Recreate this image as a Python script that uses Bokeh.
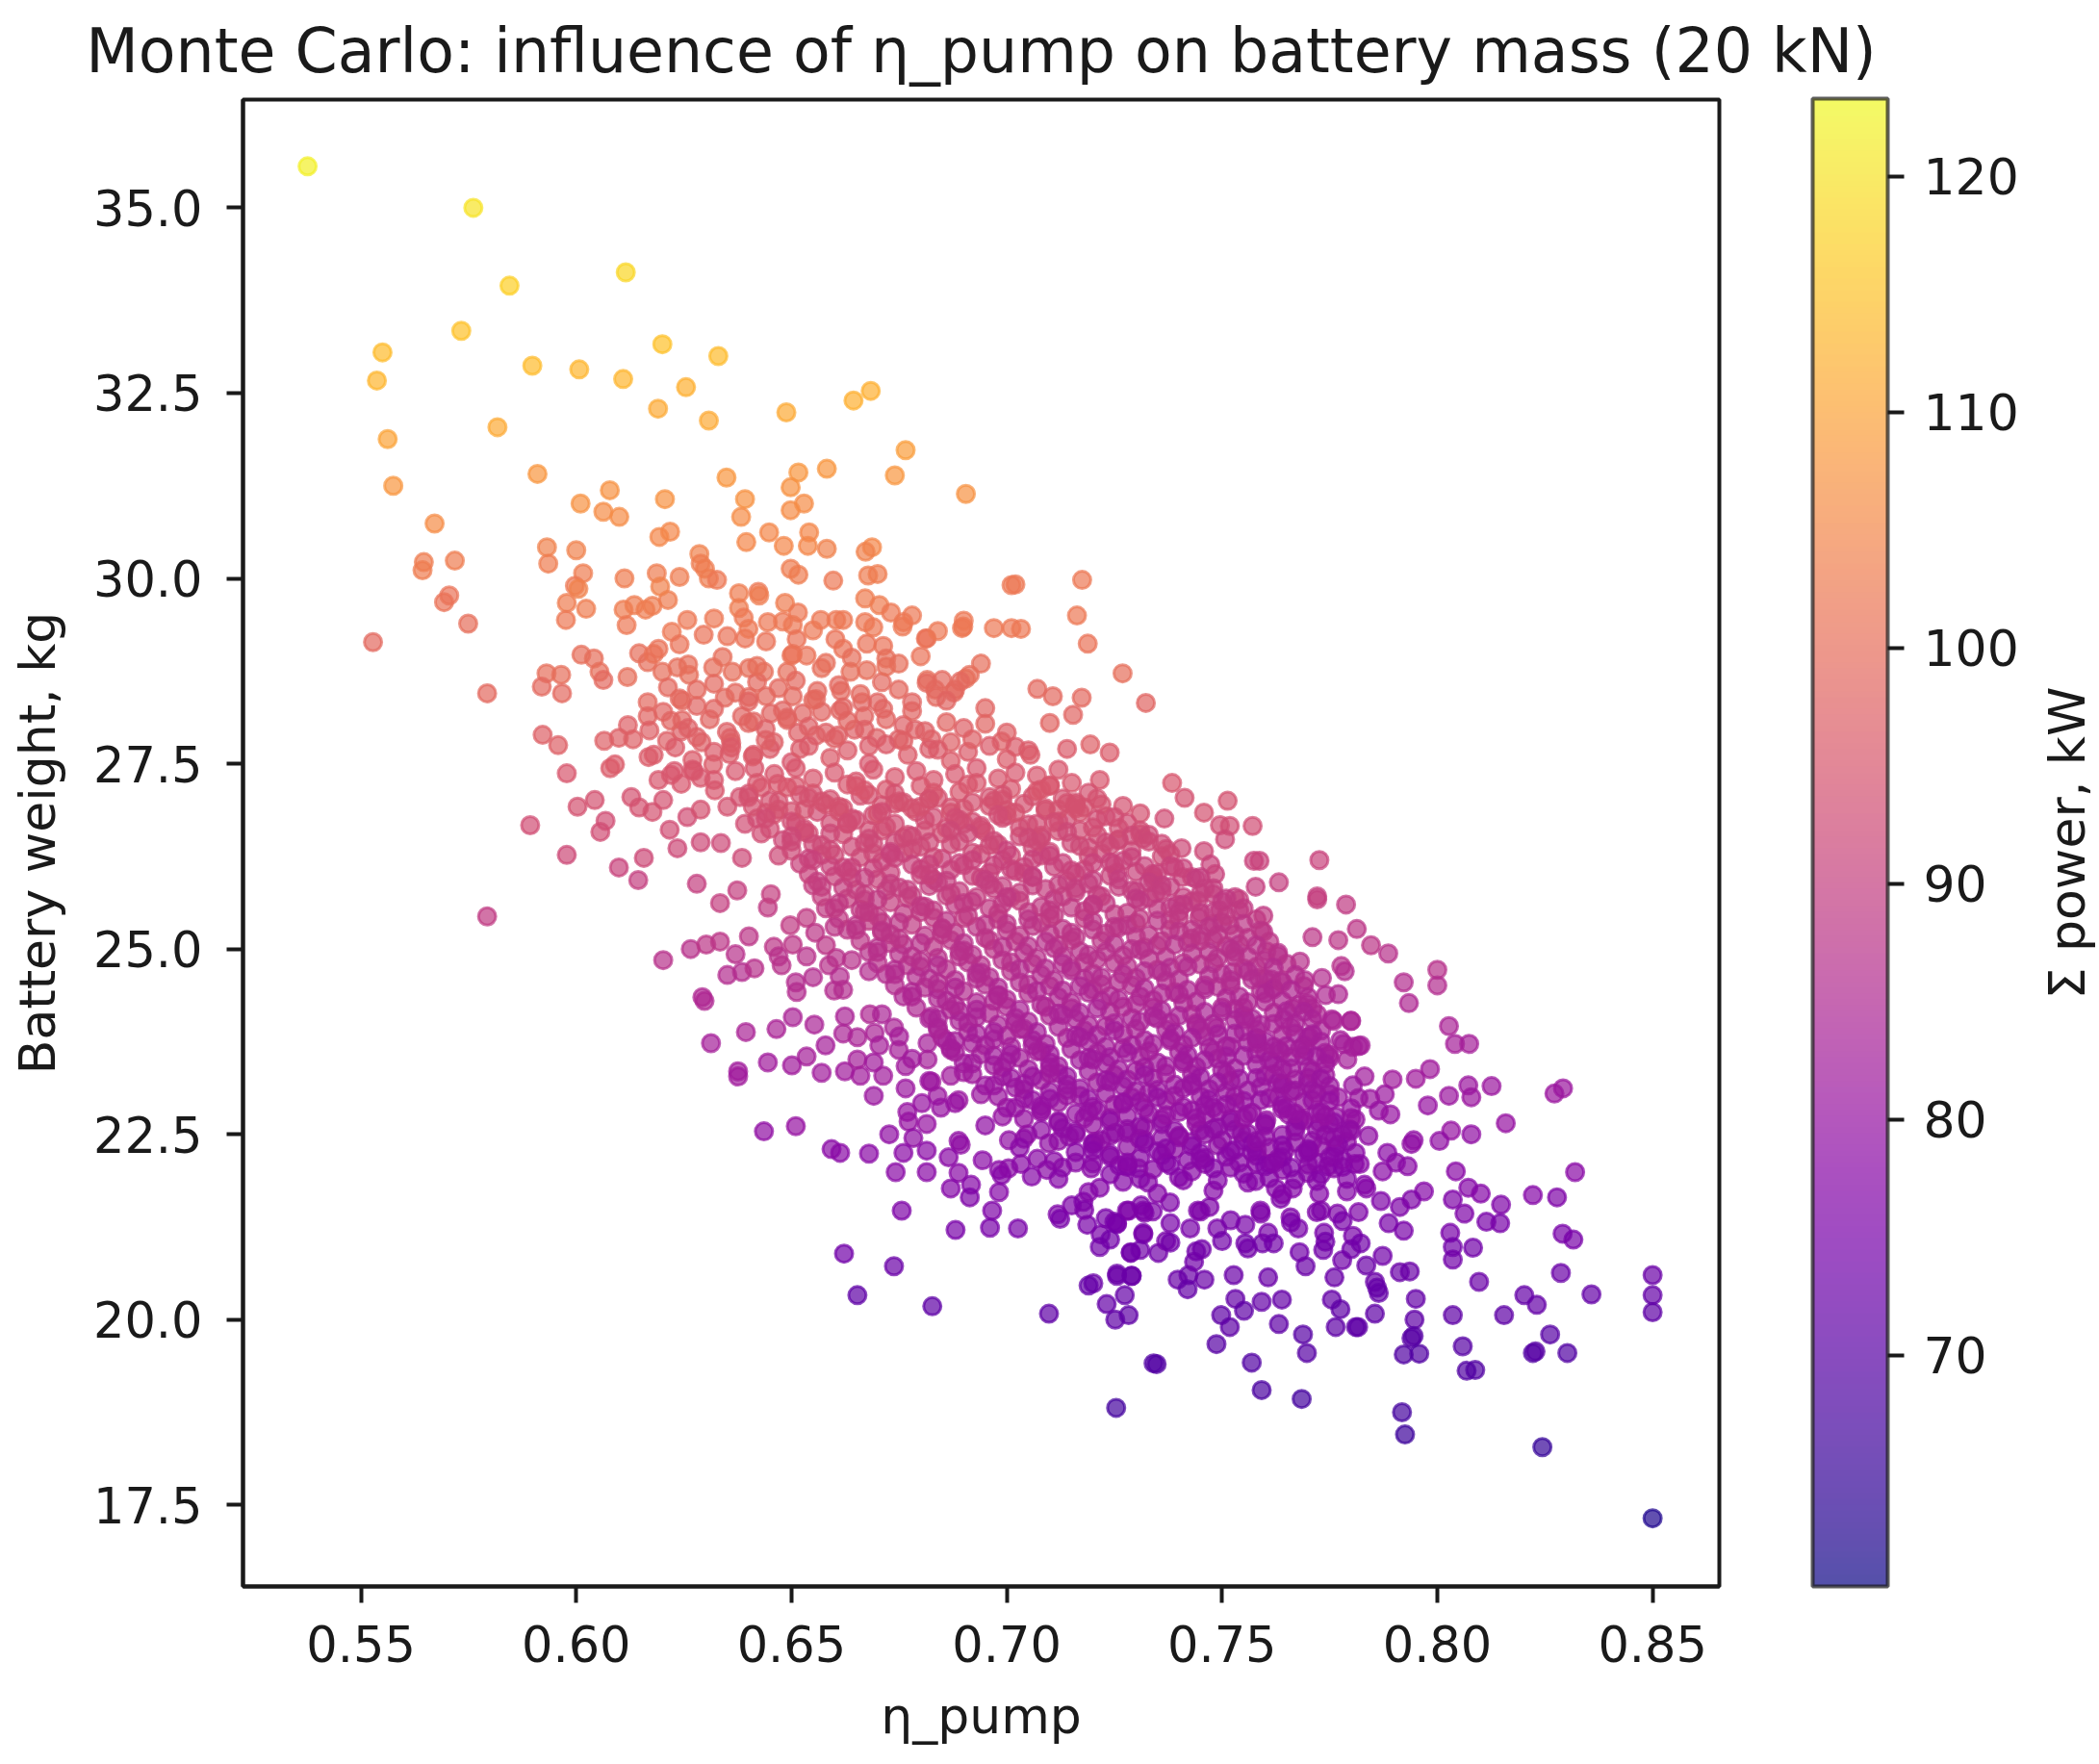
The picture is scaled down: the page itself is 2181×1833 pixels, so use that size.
from bokeh.embed import file_html
from bokeh.layouts import row
from bokeh.resources import INLINE
from bokeh.plotting import figure
from bokeh.models import (ColorBar, ColumnDataSource, FixedTicker,
                          LinearColorMapper, NumeralTickFormatter)
from bokeh.palettes import Plasma256

TITLE = "Monte Carlo: influence of η_pump on battery mass (20 kN)"
X_LABEL = "η_pump"
Y_LABEL = "Battery weight, kg"
C_LABEL = "Σ power, kW"
x_ticks = [0.55, 0.60, 0.65, 0.70, 0.75, 0.80, 0.85]
y_ticks = [17.5, 20.0, 22.5, 25.0, 27.5, 30.0, 32.5, 35.0]
c_ticks = [70, 80, 90, 100, 110, 120]
FONT = "DejaVu Sans"

# upper part of the cloud
eta_top = [
 .5376,.5761,.5845,.6115,.5733,.555,.5537,.5898,.6007,.6109,
 .62,.633,.6255,.619,.6308,.5817,.5562,.6488,.6644,.6684,
 .6765,.674,.6905,.591,.5575,.6582,.6516,.6498,.6349,.6078,
 .601,.6063,.61,.5671,.6206,.6193,.6218,.6392,.6383,.6395,
 .6448,.6482,.6541,.6538,.6498,.6529,.6582,.6687,.6672,.5932,
 .6,.5935,.5646,.5643,.5718,.7175,.7011,.702,.6286,.6289,
 .6299,.6308,.6327,.6498,.6516,.6678,.67,.6597,.6016,.5997,
 .6112,.6187,.624,.6423,.5693,.5705,.5749,.5528,.6812,.6896,
 .7011,.7033,.7163,.7188,.7269,.6914,.6905,.688,.6815,.6834,
]
batt_top = [
 35.56,35.0,33.95,34.13,33.34,33.05,32.67,32.87,32.82,32.69,
 33.16,33.0,32.58,32.29,32.13,32.04,31.88,32.24,32.4,32.53,
 31.73,31.39,31.14,31.41,31.25,31.48,31.43,31.23,31.36,31.19,
 31.01,30.9,30.83,30.74,31.07,30.56,30.63,31.07,30.83,30.49,
 30.62,30.44,30.62,30.44,30.92,31.01,30.4,30.42,30.36,30.42,
 30.38,30.2,30.22,30.11,30.24,29.98,29.91,29.92,30.33,30.2,
 30.13,30.0,29.98,30.13,30.05,30.04,30.06,29.97,30.07,29.9,
 30.0,30.07,30.02,29.82,29.68,29.77,29.39,29.14,29.19,29.33,
 29.33,29.32,29.5,29.12,28.72,28.7,28.65,28.5,28.63,28.5,
]
power_top = [
 122,120,117,118,115,114,113,114,113,113,
 115,114,112,111,111,111,110,111,112,112,
 109,108,107,108,108,108,108,107,108,107,
 107,106,106,106,107,105,105,107,106,105,
 105,105,105,105,106,106,104,105,104,104,
 104,103,103,103,103,102,102,102,104,103,
 103,103,102,103,103,103,103,102,103,102,
 103,103,103,102,101,101,100,99,101,102,
 102,102,102,101,100,100,100,99,100,99,
]

# left flank
eta_left = [
 .6005,.5978,.6023,.5976,.611,.6135,.6161,.6117,.6177,.6213,
 .6195,.6378,.6378,.6389,.6425,.6485,.6515,.6503,.6445,.6568,
 .6604,.6671,.6704,.6671,.6731,.678,.6758,.6814,.6899,.6713,
 .6749,.6675,.6602,.662,.6222,.6258,.6296,.6351,.6392,.6441,
 .6512,.6535,.6503,.624,.6146,.6191,.6012,.6041,.6054,.6063,
 .6119,.5931,.5965,.592,.5967,.5793,.6166,.62,.6235,.6262,
 .6318,.6363,.6401,.6436,.649,.657,.6637,.6675,.672,.6213,
 .6246,.628,.6166,.6166,.6202,.6345,.6401,.6441,.6503,.6557,
 .6615,.6664,.6749,.678,.6814,.685,.6836,.6892,.6877,.6385,
 .6412,.6452,.649,.6526,.657,.6613,.6669,.6713,.6698,.6646,
 .6246,.6244,.6211,.5922,.5958,.5978,.6065,.6099,.6132,.6168,
 .6291,.6358,.6356,.6412,.6414,.6459,.6515,.6557,.6608,.687,
 .6787,.6749,.6825,.609,.6079,.6191,.6228,.6244,.6273,.6318,
 .6289,.6468,.6043,.6003,.6128,.6146,.6177,.6202,.5893,.6068,
 .6056,.6258,.6289,.6217,.6235,.6289,.6336,.6351,.6322,.6401,
 .6441,.6392,.643,.5978,.6099,.6157,.6144,.628,.6374,.6334,
 .6385,.647,.6445,.5793,.6401,.6266,.6202,.6302,.6334,.637,
 .6459,.6503,.6535,.6497,.6452,.6535,.6587,.6612,.6555,.6604,
]
batt_left = [
 29.86,29.67,29.59,29.44,29.58,29.64,29.58,29.37,29.63,29.71,
 29.89,29.8,29.6,29.47,29.77,29.67,29.54,29.37,29.41,29.44,
 29.44,29.73,29.64,29.41,29.54,29.5,29.35,29.19,29.35,29.09,
 28.85,29.12,29.18,29.05,29.28,29.44,29.24,29.22,29.19,29.15,
 29.18,28.96,28.98,29.11,28.99,29.05,28.97,28.92,28.74,28.63,
 28.67,28.72,28.7,28.54,28.45,28.45,28.87,28.74,28.8,28.7,
 28.8,28.74,28.79,28.74,28.74,28.79,28.74,28.76,28.92,28.53,
 28.35,28.28,28.33,28.14,28.2,28.39,28.4,28.41,28.41,28.37,
 28.48,28.33,28.5,28.33,28.59,28.63,28.4,28.61,28.46,28.14,
 28.07,28.18,28.09,28.18,28.2,28.22,28.14,28.24,27.85,27.96,
 28.09,27.94,27.81,27.89,27.75,27.37,27.81,27.85,27.83,27.59,
 27.79,27.85,27.63,27.62,27.44,27.79,27.92,27.88,27.88,27.79,
 27.96,27.83,27.83,27.49,27.44,27.28,27.4,27.23,27.4,27.49,
 27.31,27.23,27.01,26.92,27.05,26.91,26.85,27.01,26.67,26.73,
 26.58,26.78,26.88,26.61,26.36,26.44,26.43,26.92,27.14,27.1,
 26.84,26.69,26.56,26.27,26.1,26.23,25.93,25.88,25.79,25.62,
 26.23,26.26,25.56,25.44,25.17,25.0,24.85,25.06,25.1,24.93,
 25.03,25.06,24.9,25.32,25.74,25.42,24.78,24.63,25.22,24.88,
]
power_left = [
 104,103,103,102,103,103,103,102,103,103,
 104,103,103,102,103,103,102,102,102,102,
 102,103,103,102,102,102,102,101,102,101,
 100,101,101,101,102,102,101,101,101,101,
 101,101,101,101,100,101,100,100,100,99,
 100,100,100,99,99,99,100,100,100,100,
 100,100,100,100,100,100,100,100,100,99,
 99,98,99,98,98,99,99,99,99,99,
 99,98,99,98,99,99,99,99,99,98,
 98,98,98,98,98,98,98,98,97,97,
 98,97,97,97,97,95,97,97,97,96,
 97,97,96,96,95,97,97,97,97,97,
 97,97,97,96,96,95,95,95,95,96,
 95,95,94,94,94,94,94,94,93,93,
 93,93,94,93,92,92,92,94,95,94,
 94,93,93,92,91,92,90,90,90,90,
 92,92,89,89,88,87,87,88,88,87,
 88,88,87,89,90,89,87,86,88,87,
]

# upper right flank
eta_ur = [
 .7071,.7107,.7174,.7154,.7323,.6988,.71,.7055,.714,.7194,
 .7239,.7216,.7151,.71,.716,.7384,.7413,.7513,.7458,.727,
 .731,.7366,.7495,.7518,.7571,.7507,.7317,.7259,.737,.7406,
 .7458,.7473,.7484,.7726,.7574,.7587,.7339,.7256,.7408,.7632,
 .7578,.7721,.7721,.7788,.7301,.7346,.7395,.7444,.748,.754,
 .7447,.7495,.754,.7596,.7518,.7379,.7429,.748,.7813,.771,
 .777,.7846,.7886,.8,.8,.7922,.7934,.7529,.7596,.7603,
 .763,.7681,.7692,.7777,.7785,.7732,.7525,.7585,.7614,.7636,
 .7618,.777,.7741,.7699,.7665,.7721,.7799,.7755,.7643,.7554,
 .7703,.7822,.7804,.7775,.7748,.7632,.7581,.752,.7487,.744,
]
batt_ur = [
 28.51,28.41,28.39,28.16,28.32,27.8,28.05,27.62,27.7,27.76,
 27.65,27.28,27.24,27.2,26.95,27.24,27.04,27.0,26.84,26.93,
 26.83,26.76,26.67,26.66,26.66,26.48,26.49,26.47,26.35,26.36,
 26.32,26.14,26.01,26.2,26.19,26.19,26.01,26.03,25.97,25.9,
 25.84,25.71,25.67,25.6,25.78,25.75,25.6,25.65,25.74,25.67,
 25.42,25.52,25.52,25.45,25.32,25.26,25.14,25.13,25.27,25.16,
 25.12,25.05,24.94,24.72,24.51,24.55,24.27,24.96,25.23,24.97,
 24.91,24.83,24.58,24.77,24.7,24.61,24.69,24.61,24.59,24.57,
 24.48,24.39,24.38,24.26,24.2,24.12,24.03,24.05,24.05,24.05,
 23.81,23.7,23.68,23.77,23.57,23.64,23.79,23.68,23.94,24.0,
]
power_ur = [
 99,99,99,98,98,97,98,96,96,97,
 96,95,95,95,94,95,94,94,94,94,
 94,93,93,93,93,92,92,92,92,92,
 92,91,91,91,91,91,91,91,91,90,
 90,90,90,89,90,90,89,90,90,90,
 89,89,89,89,89,88,88,88,88,88,
 88,88,87,87,86,86,85,87,88,87,
 87,87,86,87,86,86,86,86,86,86,
 86,85,85,85,85,85,84,84,84,84,
 84,83,83,83,83,83,83,83,84,84,
]

# lower right flank
eta_lr = [
 .8027,.8041,.8074,.8272,.8292,.7983,.795,.8126,.8072,.8079,
 .8027,.7978,.8159,.7896,.7831,.7804,.7878,.7844,.7817,.7864,
 .7891,.784,.8032,.8005,.8079,.794,.7945,.7884,.7904,.7931,
 .7873,.8043,.832,.8222,.8278,.7969,.8072,.8101,.8036,.8148,
 .8063,.8114,.8146,.794,.7869,.7835,.7913,.7887,.7922,.7817,
 .8291,.8316,.803,.8036,.8036,.8083,.8287,.8097,.8358,.85,
 .85,.85,.8202,.8231,.8155,.8036,.8262,.8302,.8222,.8228,
 .8059,.8068,.8088,.8244,.85,.7918,.7925,.795,.7947,.794,
 .7945,.7922,.7958,.7855,.7855,.786,.7864,.7835,.7873,.7913,
 .7936,.7779,.7761,.7694,.7735,.7737,.7607,.7527,.7755,.7775,
 .7764,.7811,.7816,.7688,.7697,.7632,.7639,.7592,.7531,.7551,
 .7498,.7518,.7487,.7569,.7592,.7685,.7341,.7348,.7254,.7422,
 .7397,.742,.7459,.7435,.7453,.7288,.7256,.729,.7274,.7283,
 .7252,.7352,.737,.7317,.7256,.7317,.7279,.7379,.7444,.7471,
 .7426,.7489,.7554,.7594,.7607,.7554,.7589,.7636,.7659,.7677,
 .773,.7768,.7804,.7822,.7726,.7703,.7625,.7664,.7699,.7746,
 .7808,.7831,.7764,.7645,.7611,.7581,.7578,.7545,.7462,.7449,
 .7603,.7654,.769,.7726,.7764,.78,.7795,.775,.7699,.7641,
 .775,.7791,.7817,.7782,.7694,.7636,.7581,.78,.7759,.7699,
]
batt_lr = [
 23.96,23.72,23.72,23.05,23.12,23.38,23.25,23.15,23.16,23.0,
 23.02,22.89,22.65,23.24,23.28,23.16,23.04,22.98,22.99,22.82,
 22.77,22.48,22.55,22.41,22.5,22.37,22.42,22.25,22.12,22.07,
 22.0,22.0,21.99,21.68,21.65,21.73,21.78,21.7,21.62,21.55,
 21.43,21.32,21.3,21.62,21.6,21.77,21.52,21.3,21.2,21.45,
 21.16,21.08,21.17,20.98,20.81,20.97,20.63,20.51,20.34,20.6,
 20.33,20.1,20.33,20.2,20.06,20.06,19.8,19.55,19.55,19.57,
 19.64,19.31,19.32,18.28,17.32,18.75,18.45,20.28,20.0,19.75,
 19.78,19.53,19.54,20.08,20.51,20.43,20.36,20.73,20.86,20.64,
 20.65,20.8,20.57,20.72,20.94,21.17,20.57,20.6,20.27,20.14,
 19.9,19.9,19.9,19.8,19.55,19.94,20.27,20.24,20.28,20.12,
 20.06,19.9,19.67,19.42,19.05,18.93,19.41,19.4,18.81,20.6,
 20.54,20.41,20.54,20.78,20.95,20.9,20.59,20.59,20.33,20.06,
 20.0,20.9,21.06,21.17,21.3,21.47,21.47,21.58,21.47,21.52,
 21.23,21.23,21.03,21.03,21.17,21.28,21.47,21.63,21.38,21.23,
 21.47,21.43,21.13,21.03,21.7,22.28,21.77,21.77,21.98,22.07,
 22.1,21.82,22.32,22.28,22.1,22.28,21.87,22.52,22.77,22.55,
 22.69,22.77,22.69,22.66,22.74,22.72,22.57,23.04,23.18,23.18,
 23.53,23.51,23.69,23.72,23.64,23.61,23.73,24.03,24.03,23.81,
]
power_lr = [
 84,83,83,81,81,82,82,81,81,81,
 81,80,80,82,82,81,81,81,81,80,
 80,79,80,79,79,79,79,78,78,78,
 78,78,78,77,76,77,77,77,76,76,
 76,75,75,76,76,77,76,75,75,76,
 75,75,75,74,74,74,73,73,72,73,
 72,71,72,72,71,71,70,69,69,70,
 70,69,69,65,62,67,66,72,71,70,
 70,69,69,71,73,72,72,73,74,73,
 73,74,73,73,74,75,73,73,72,71,
 71,71,71,70,70,71,72,72,72,71,
 71,71,70,69,68,67,69,69,67,73,
 73,72,73,74,74,74,73,73,72,71,
 71,74,75,75,75,76,76,76,76,76,
 75,75,74,74,75,75,76,76,76,75,
 76,76,75,74,77,79,77,77,78,78,
 78,77,79,79,78,79,77,79,80,79,
 80,80,80,80,80,80,79,81,81,81,
 83,83,83,83,83,83,83,84,84,84,
]

# lower left flank
eta_ll = [
 .6293,.6298,.6351,.6385,.6414,.6477,.6512,.6599,.6503,.6465,
 .6394,.6313,.6553,.6579,.6535,.6501,.6445,.657,.6376,.6376,
 .6624,.666,.6691,.6624,.662,.6682,.6653,.6693,.6738,.6704,
 .6749,.6765,.6653,.6691,.6713,.6816,.6825,.685,.687,.6816,
 .6825,.687,.6765,.6888,.6839,.6847,.6803,.6769,.6814,.6772,
 .6727,.6783,.676,.6814,.6888,.6893,.6865,.668,.6593,.6613,
 .651,.6436,.6742,.6814,.6888,.6944,.687,.6917,.6914,.6982,
 .6988,.7004,.7033,.7071,.7058,.7093,.7129,.716,.6982,.6966,
 .6961,.7026,.6881,.6756,.6622,.6738,.6653,.6827,.7098,.7118,
 .7124,.7151,.7178,.7187,.723,.7256,.7283,.7312,.7339,.7317,
 .7218,.7216,.7288,.7256,.729,.7201,.719,.7232,.7216,.7196,
 .7261,.7306,.7328,.7005,.7048,.7098,.7145,.7205,.7252,.7308,
]
batt_ll = [
 24.35,24.3,24.65,24.69,24.74,24.78,24.42,24.44,24.08,23.92,
 23.88,23.73,23.98,23.7,23.55,23.43,23.47,23.33,23.35,23.28,
 23.35,23.29,23.02,24.09,23.86,24.12,23.81,23.87,23.94,23.7,
 23.64,23.42,23.51,23.47,23.29,23.73,24.09,23.81,23.66,23.51,
 23.21,23.29,23.12,22.96,23.02,22.86,22.92,22.8,22.64,22.67,
 22.5,22.45,22.25,22.28,22.41,22.36,22.19,22.24,22.3,22.25,
 22.61,22.54,21.99,21.99,21.98,22.15,21.77,21.82,21.65,22.02,
 21.95,22.04,22.1,22.17,21.93,22.02,22.05,22.12,21.72,21.47,
 21.24,21.23,21.21,21.47,20.89,20.72,20.33,20.18,20.08,21.42,
 21.36,21.54,21.59,21.28,21.37,21.29,21.47,21.54,21.46,21.15,
 21.15,20.98,20.91,20.62,20.59,20.49,20.46,20.21,21.78,22.04,
 22.08,22.04,21.85,22.42,22.5,22.38,22.47,22.4,22.52,22.44,
]
power_ll = [
 85,85,86,86,87,87,86,86,84,84,
 84,83,84,83,83,82,82,82,82,82,
 82,82,81,84,84,85,84,84,84,83,
 83,82,83,82,82,83,85,84,83,83,
 82,82,81,81,81,80,80,80,80,80,
 79,79,78,78,79,79,78,78,78,78,
 80,79,78,78,78,78,77,77,76,78,
 77,78,78,78,77,78,78,78,77,76,
 75,75,75,76,74,73,71,71,71,76,
 75,76,76,75,75,75,76,76,76,75,
 75,74,74,73,73,73,72,72,77,78,
 78,78,77,79,79,79,79,79,79,79,
]

# dense middle of the cloud
eta_core = [
 .638,.643,.647,.651,.655,.659,.663,.668,.672,.676,
 .680,.684,.689,.693,.697,.701,.706,.710,.714,.719,
 .642,.647,.651,.656,.661,.665,.669,.674,.678,.683,
 .687,.692,.696,.700,.705,.709,.714,.718,.723,.728,
 .648,.653,.657,.662,.667,.671,.676,.680,.685,.689,
 .694,.698,.703,.707,.712,.717,.721,.726,.731,.736,
 .652,.657,.662,.666,.671,.676,.680,.685,.690,.694,
 .699,.704,.708,.713,.718,.722,.727,.732,.736,.741,
 .655,.660,.665,.670,.675,.680,.684,.689,.694,.699,
 .704,.709,.714,.719,.724,.729,.734,.738,.743,.748,
 .658,.663,.668,.673,.678,.683,.688,.693,.698,.703,
 .708,.713,.718,.723,.728,.733,.738,.743,.748,.753,
 .663,.668,.673,.678,.683,.688,.693,.698,.703,.708,
 .713,.718,.723,.728,.733,.738,.743,.748,.753,.758,
 .668,.673,.678,.683,.687,.692,.697,.702,.707,.712,
 .717,.722,.727,.732,.737,.742,.747,.751,.756,.761,
 .672,.677,.682,.686,.691,.696,.701,.706,.711,.715,
 .720,.725,.730,.735,.740,.745,.750,.755,.760,.765,
 .676,.681,.686,.690,.695,.700,.705,.710,.715,.720,
 .724,.729,.734,.739,.744,.749,.754,.759,.764,.769,
 .682,.687,.691,.696,.700,.705,.710,.715,.719,.724,
 .729,.734,.738,.743,.748,.753,.757,.762,.767,.771,
 .686,.691,.695,.700,.704,.709,.714,.718,.723,.727,
 .732,.737,.741,.746,.751,.755,.760,.764,.769,.773,
 .690,.694,.699,.703,.708,.712,.717,.721,.726,.731,
 .735,.740,.744,.749,.753,.758,.762,.766,.770,.774,
 .695,.699,.704,.708,.712,.717,.721,.725,.730,.734,
 .739,.743,.747,.752,.756,.760,.764,.767,.771,.774,
 .700,.704,.708,.712,.717,.721,.725,.729,.733,.737,
 .741,.745,.749,.753,.757,.761,.765,.769,.773,.777,
 .708,.712,.716,.720,.724,.728,.732,.736,.740,.744,
 .748,.752,.756,.760,.764,.768,.772,.775,.778,.781,
 .716,.720,.724,.728,.732,.736,.739,.743,.746,.749,
 .752,.755,.758,.761,.764,.767,.770,.773,.776,.779,
 .724,.728,.731,.734,.737,.740,.743,.746,.749,.752,
 .755,.758,.761,.764,.767,.770,.773,.776,.779,.782,
]
batt_core = [
 27.05,27.18,26.99,27.2,27.1,27.02,27.22,27.08,27.15,26.98,
 27.2,27.04,27.12,27.24,27.0,27.16,27.06,27.21,26.97,27.11,
 26.76,26.88,26.7,26.85,26.92,26.74,26.81,26.69,26.9,26.78,
 26.84,26.72,26.93,26.8,26.68,26.87,26.75,26.91,26.79,26.7,
 26.47,26.58,26.4,26.55,26.43,26.6,26.5,26.38,26.56,26.45,
 26.62,26.41,26.52,26.46,26.59,26.39,26.54,26.48,26.6,26.42,
 26.15,26.27,26.1,26.24,26.18,26.3,26.08,26.22,26.13,26.28,
 26.2,26.11,26.26,26.16,26.07,26.29,26.19,26.12,26.25,26.09,
 25.86,25.98,25.8,25.94,25.83,26.0,25.9,25.78,25.96,25.85,
 26.02,25.81,25.92,25.88,25.99,25.79,25.93,25.84,25.97,25.82,
 25.55,25.68,25.5,25.63,25.72,25.52,25.6,25.7,25.48,25.65,
 25.57,25.71,25.51,25.62,25.49,25.69,25.56,25.64,25.5,25.7,
 25.26,25.38,25.2,25.33,25.42,25.22,25.3,25.4,25.18,25.35,
 25.27,25.41,25.21,25.32,25.19,25.39,25.26,25.34,25.2,25.4,
 24.96,25.08,24.9,25.03,25.12,24.92,25.0,25.1,24.88,25.05,
 24.97,25.11,24.91,25.02,24.89,25.09,24.96,25.04,24.9,25.1,
 24.66,24.78,24.6,24.73,24.82,24.62,24.7,24.8,24.58,24.75,
 24.67,24.81,24.61,24.72,24.59,24.79,24.66,24.74,24.6,24.8,
 24.36,24.48,24.3,24.43,24.52,24.32,24.4,24.5,24.28,24.45,
 24.37,24.51,24.31,24.42,24.29,24.49,24.36,24.44,24.3,24.5,
 24.06,24.18,24.0,24.13,24.22,24.02,24.1,24.2,23.98,24.15,
 24.07,24.21,24.01,24.12,23.99,24.19,24.06,24.14,24.0,24.2,
 23.76,23.88,23.7,23.83,23.92,23.72,23.8,23.9,23.68,23.85,
 23.77,23.91,23.71,23.82,23.69,23.89,23.76,23.84,23.7,23.9,
 23.46,23.58,23.4,23.53,23.62,23.42,23.5,23.6,23.38,23.55,
 23.47,23.61,23.41,23.52,23.39,23.59,23.46,23.54,23.4,23.6,
 23.16,23.28,23.1,23.23,23.32,23.12,23.2,23.3,23.08,23.25,
 23.17,23.31,23.11,23.22,23.09,23.29,23.16,23.24,23.1,23.3,
 22.86,22.98,22.8,22.93,23.02,22.82,22.9,23.0,22.78,22.95,
 22.87,23.01,22.81,22.92,22.79,22.99,22.86,22.94,22.8,23.0,
 22.56,22.68,22.5,22.63,22.72,22.52,22.6,22.7,22.48,22.65,
 22.57,22.71,22.51,22.62,22.49,22.69,22.56,22.64,22.5,22.7,
 22.26,22.38,22.2,22.33,22.42,22.22,22.3,22.4,22.18,22.35,
 22.27,22.41,22.21,22.32,22.19,22.39,22.26,22.34,22.2,22.4,
 21.96,22.08,21.9,22.03,22.12,21.92,22.0,22.1,21.88,22.05,
 21.97,22.11,21.91,22.02,21.89,22.09,21.96,22.04,21.9,22.1,
]
power_core = [
 94,95,94,95,94,94,95,94,95,94,
 95,94,95,95,94,95,94,95,94,94,
 93,94,93,93,94,93,93,93,94,93,
 94,93,94,93,93,94,93,94,93,93,
 92,93,92,93,92,93,92,92,93,92,
 93,92,92,92,93,92,93,92,93,92,
 91,92,91,92,91,92,91,91,91,92,
 91,91,92,91,91,92,91,91,92,91,
 90,91,90,91,90,91,90,90,91,90,
 91,90,91,90,91,90,91,90,91,90,
 89,90,89,90,90,89,89,90,89,90,
 89,90,89,89,89,90,89,90,89,90,
 88,89,88,89,89,88,88,89,88,89,
 88,89,88,88,88,89,88,89,88,89,
 87,88,87,88,88,87,88,88,87,88,
 87,88,87,88,87,88,87,88,87,88,
 86,87,86,87,87,86,87,87,86,87,
 86,87,86,87,86,87,86,87,86,87,
 85,86,85,86,86,85,86,86,85,86,
 85,86,85,86,85,86,85,86,85,86,
 84,85,84,85,85,84,85,85,84,85,
 84,85,84,85,84,85,84,85,84,85,
 83,84,83,84,84,83,84,84,83,84,
 83,84,83,84,83,84,83,84,83,84,
 82,83,82,83,83,82,82,83,82,83,
 82,83,82,83,82,83,82,83,82,83,
 81,82,81,82,82,81,82,82,81,82,
 81,82,81,82,81,82,81,82,81,82,
 80,81,80,81,81,80,81,81,80,81,
 80,81,80,81,80,81,80,81,80,81,
 79,80,79,80,80,79,80,80,79,80,
 79,80,79,80,79,80,79,80,79,80,
 78,79,78,79,79,78,79,79,78,79,
 78,79,78,79,78,79,78,79,78,79,
 77,78,77,78,78,77,78,78,77,78,
 77,78,77,78,77,78,77,78,77,78,
]

# second pass over the dense middle
eta_mid = [
 .641,.645,.650,.654,.658,.662,.666,.671,.675,.679,
 .682,.687,.692,.696,.700,.704,.709,.713,.717,.722,
 .645,.650,.654,.659,.664,.668,.672,.677,.681,.686,
 .690,.695,.699,.703,.708,.712,.717,.721,.726,.731,
 .650,.655,.660,.664,.669,.674,.678,.683,.687,.692,
 .697,.701,.706,.710,.715,.719,.724,.729,.733,.738,
 .654,.659,.664,.669,.673,.678,.683,.687,.692,.697,
 .702,.706,.711,.716,.720,.725,.730,.734,.739,.744,
 .657,.662,.667,.672,.677,.682,.687,.692,.697,.701,
 .706,.711,.716,.721,.726,.731,.736,.741,.746,.751,
 .661,.666,.671,.676,.681,.686,.691,.696,.700,.705,
 .710,.715,.720,.725,.730,.735,.740,.745,.750,.755,
 .666,.671,.676,.681,.685,.690,.695,.700,.705,.710,
 .715,.720,.725,.730,.735,.740,.745,.749,.754,.759,
 .670,.675,.680,.684,.689,.694,.699,.704,.709,.713,
 .718,.723,.728,.733,.738,.743,.748,.753,.758,.763,
 .674,.679,.684,.688,.693,.698,.703,.708,.713,.718,
 .722,.727,.732,.737,.742,.747,.752,.757,.762,.767,
 .679,.684,.689,.693,.698,.703,.708,.712,.717,.722,
 .727,.731,.736,.741,.746,.751,.755,.760,.765,.770,
 .684,.689,.693,.698,.702,.707,.712,.716,.721,.725,
 .730,.735,.739,.744,.749,.753,.758,.762,.767,.771,
 .688,.692,.697,.701,.706,.710,.715,.719,.724,.729,
 .733,.738,.742,.747,.751,.756,.760,.765,.769,.773,
 .692,.697,.701,.705,.710,.714,.719,.723,.728,.732,
 .737,.741,.745,.750,.754,.758,.762,.766,.770,.774,
 .698,.702,.706,.710,.714,.719,.723,.727,.731,.735,
 .739,.743,.747,.751,.755,.759,.763,.767,.771,.775,
 .704,.708,.712,.716,.720,.724,.728,.732,.736,.740,
 .744,.748,.752,.756,.760,.764,.768,.772,.776,.780,
 .712,.716,.720,.724,.728,.732,.736,.739,.743,.746,
 .750,.753,.757,.760,.764,.767,.771,.774,.777,.780,
 .720,.724,.728,.731,.735,.738,.742,.745,.748,.751,
 .754,.757,.760,.763,.766,.769,.772,.775,.778,.781,
]
batt_mid = [
 26.92,27.0,26.86,27.04,26.95,26.9,27.07,26.94,26.99,26.85,
 27.02,26.91,26.98,27.05,26.87,26.96,26.9,27.03,26.84,26.95,
 26.62,26.72,26.56,26.7,26.76,26.6,26.65,26.54,26.74,26.63,
 26.69,26.58,26.77,26.64,26.53,26.72,26.6,26.75,26.63,26.55,
 26.33,26.42,26.27,26.38,26.29,26.44,26.35,26.24,26.41,26.3,
 26.46,26.26,26.37,26.31,26.43,26.25,26.39,26.33,26.45,26.28,
 26.01,26.12,25.96,26.09,26.03,26.14,25.94,26.07,25.99,26.13,
 26.05,25.97,26.11,26.02,25.93,26.14,26.04,25.98,26.1,25.95,
 25.71,25.83,25.66,25.79,25.69,25.85,25.75,25.64,25.81,25.7,
 25.86,25.67,25.77,25.73,25.84,25.65,25.78,25.7,25.82,25.68,
 25.41,25.53,25.36,25.48,25.57,25.38,25.45,25.55,25.34,25.5,
 25.42,25.56,25.37,25.47,25.35,25.54,25.41,25.49,25.36,25.55,
 25.11,25.23,25.06,25.18,25.27,25.08,25.15,25.25,25.04,25.2,
 25.12,25.26,25.07,25.17,25.05,25.24,25.11,25.19,25.06,25.25,
 24.81,24.93,24.76,24.88,24.97,24.78,24.85,24.95,24.74,24.9,
 24.82,24.96,24.77,24.87,24.75,24.94,24.81,24.89,24.76,24.95,
 24.51,24.63,24.46,24.58,24.67,24.48,24.55,24.65,24.44,24.6,
 24.52,24.66,24.47,24.57,24.45,24.64,24.51,24.59,24.46,24.65,
 24.21,24.33,24.16,24.28,24.37,24.18,24.25,24.35,24.14,24.3,
 24.22,24.36,24.17,24.27,24.15,24.34,24.21,24.29,24.16,24.35,
 23.91,24.03,23.86,23.98,24.07,23.88,23.95,24.05,23.84,24.0,
 23.92,24.06,23.87,23.97,23.85,24.04,23.91,23.99,23.86,24.05,
 23.61,23.73,23.56,23.68,23.77,23.58,23.65,23.75,23.54,23.7,
 23.62,23.76,23.57,23.67,23.55,23.74,23.61,23.69,23.56,23.75,
 23.31,23.43,23.26,23.38,23.47,23.28,23.35,23.45,23.24,23.4,
 23.32,23.46,23.27,23.37,23.25,23.44,23.31,23.39,23.26,23.45,
 23.01,23.13,22.96,23.08,23.17,22.98,23.05,23.15,22.94,23.1,
 23.02,23.16,22.97,23.07,22.95,23.14,23.01,23.09,22.96,23.15,
 22.71,22.83,22.66,22.78,22.87,22.68,22.75,22.85,22.64,22.8,
 22.72,22.86,22.67,22.77,22.65,22.84,22.71,22.79,22.66,22.85,
 22.41,22.53,22.36,22.48,22.57,22.38,22.45,22.55,22.34,22.5,
 22.42,22.56,22.37,22.47,22.35,22.54,22.41,22.49,22.36,22.55,
 22.11,22.23,22.06,22.18,22.27,22.08,22.15,22.25,22.04,22.2,
 22.12,22.26,22.07,22.17,22.05,22.24,22.11,22.19,22.06,22.25,
]
power_mid = [
 94,94,94,94,94,94,94,94,94,94,
 94,94,94,94,94,94,94,94,94,94,
 93,93,93,93,93,93,93,93,93,93,
 93,93,93,93,93,93,93,93,93,93,
 92,92,92,92,92,92,92,92,92,92,
 92,92,92,92,92,92,92,92,92,92,
 91,91,91,91,91,91,90,91,91,91,
 91,91,91,91,90,91,91,91,91,90,
 90,90,89,90,90,90,90,89,90,90,
 90,89,90,90,90,89,90,90,90,89,
 89,89,88,89,89,88,89,89,88,89,
 89,89,88,89,88,89,89,89,88,89,
 88,88,87,88,88,87,88,88,87,88,
 88,88,87,88,87,88,88,88,87,88,
 87,87,86,87,87,87,87,87,86,87,
 87,87,87,87,86,87,87,87,87,87,
 86,86,85,86,86,85,86,86,85,86,
 86,86,85,86,85,86,86,86,85,86,
 85,85,84,85,85,84,85,85,84,85,
 85,85,84,85,84,85,85,85,84,85,
 84,84,83,84,84,83,84,84,83,84,
 84,84,83,84,83,84,84,84,83,84,
 83,83,82,83,83,82,83,83,82,83,
 83,83,82,83,82,83,83,83,82,83,
 82,82,81,82,82,81,82,82,81,82,
 82,82,81,82,81,82,82,82,81,82,
 81,81,80,81,81,80,81,81,80,81,
 81,81,80,81,80,81,81,81,80,81,
 80,80,79,80,80,79,80,80,79,80,
 80,80,79,80,79,80,80,80,79,80,
 79,79,78,79,79,78,79,79,78,79,
 79,79,78,79,78,79,79,79,78,79,
 78,78,77,78,78,77,78,78,77,78,
 78,78,77,78,77,78,78,78,77,78,
]

# upper band between the flanks
eta_up = [
 .618,.623,.627,.632,.636,.641,.645,.650,.654,.659,
 .663,.668,.672,.677,.682,.687,.691,.696,.700,.705,
 .612,.617,.622,.626,.631,.635,.640,.644,.649,.654,
 .658,.663,.667,.672,.676,.681,.686,.690,.695,.700,
 .622,.627,.632,.637,.642,.646,.651,.655,.660,.665,
 .669,.674,.679,.683,.688,.693,.698,.702,.707,.712,
 .628,.632,.637,.642,.647,.651,.656,.661,.666,.671,
]
batt_up = [
 27.62,27.72,27.55,27.66,27.78,27.6,27.7,27.52,27.74,27.58,
 27.68,27.5,27.76,27.62,27.7,27.54,27.66,27.74,27.56,27.68,
 28.02,27.95,28.08,27.98,28.1,27.93,28.05,27.97,28.12,28.0,
 27.92,28.08,27.96,28.1,28.02,27.94,28.06,27.98,28.04,27.92,
 27.35,27.42,27.28,27.4,27.24,27.36,27.44,27.3,27.38,27.26,
 27.42,27.32,27.4,27.28,27.36,27.44,27.3,27.38,27.34,27.42,
 28.5,28.58,28.46,28.6,28.52,28.62,28.48,28.56,28.44,28.6,
]
power_up = [
 96,96,96,96,97,96,96,95,96,96,
 96,95,96,96,96,96,96,96,96,96,
 97,97,98,97,98,97,98,97,98,97,
 97,98,97,98,97,97,98,97,98,97,
 95,95,95,95,95,95,95,95,95,95,
 95,95,95,95,95,95,95,95,95,95,
 99,99,99,99,99,99,99,99,99,99,
]

# third pass, closing the gaps
eta_fill = [
 .652,.661,.667,.674,.683,.690,.699,.707,.712,.721,
 .646,.653,.663,.670,.681,.688,.694,.702,.711,.720,
 .650,.659,.668,.673,.682,.691,.700,.708,.719,.729,
 .655,.663,.674,.682,.689,.696,.706,.715,.724,.735,
 .656,.667,.673,.686,.695,.703,.712,.722,.733,.745,
 .661,.670,.680,.690,.699,.711,.720,.731,.741,.751,
 .665,.675,.685,.696,.706,.716,.726,.736,.747,.756,
 .670,.680,.690,.701,.711,.721,.731,.741,.752,.760,
 .674,.684,.694,.705,.715,.726,.736,.746,.756,.764,
 .678,.688,.698,.709,.719,.730,.740,.750,.760,.768,
 .671,.684,.693,.703,.713,.723,.734,.745,.755,.766,
 .675,.687,.697,.707,.717,.727,.738,.748,.758,.768,
 .678,.690,.700,.710,.720,.730,.741,.751,.761,.771,
 .682,.694,.704,.714,.724,.733,.743,.753,.763,.772,
 .688,.699,.708,.718,.727,.737,.746,.755,.764,.774,
 .695,.704,.713,.722,.731,.740,.749,.758,.767,.776,
 .703,.711,.720,.728,.737,.745,.753,.762,.770,.778,
 .712,.719,.727,.735,.741,.748,.756,.764,.772,.779,
 .718,.725,.732,.738,.745,.752,.759,.766,.772,.778,
 .724,.731,.738,.744,.750,.756,.762,.768,.774,.780,
 .618,.626,.634,.642,.650,.658,.664,.672,.680,.694,
 .624,.632,.640,.648,.655,.662,.670,.678,.686,.695,
 .628,.636,.644,.652,.660,.668,.676,.684,.692,.702,
 .632,.640,.648,.655,.662,.669,.676,.684,.690,.697,
 .655,.662,.668,.647,.651,.658,.664,.671,.660,.667,
]
batt_fill = [
 27.08,26.86,27.14,26.96,27.11,26.89,27.01,27.13,26.88,27.03,
 26.82,26.62,26.69,26.83,26.6,26.77,26.66,26.84,26.71,26.64,
 26.52,26.34,26.49,26.31,26.44,26.56,26.33,26.5,26.37,26.53,
 26.2,26.05,26.23,26.0,26.16,26.03,26.21,26.06,26.17,26.02,
 25.91,25.74,25.88,25.72,25.93,25.76,25.87,25.71,25.9,25.75,
 25.62,25.44,25.58,25.42,25.61,25.46,25.59,25.41,25.6,25.45,
 25.32,25.14,25.28,25.12,25.31,25.16,25.29,25.11,25.3,25.15,
 25.02,24.84,24.98,24.82,25.01,24.86,24.99,24.81,25.0,24.85,
 24.72,24.54,24.68,24.52,24.71,24.56,24.69,24.51,24.7,24.55,
 24.42,24.24,24.38,24.22,24.41,24.26,24.39,24.21,24.4,24.25,
 24.12,23.94,24.08,23.92,24.11,23.96,24.09,23.91,24.1,23.95,
 23.82,23.64,23.78,23.62,23.81,23.66,23.79,23.61,23.8,23.65,
 23.52,23.34,23.48,23.32,23.51,23.36,23.49,23.31,23.5,23.35,
 23.22,23.04,23.18,23.02,23.21,23.06,23.19,23.01,23.2,23.05,
 22.92,22.74,22.88,22.72,22.91,22.76,22.89,22.71,22.9,22.75,
 22.62,22.44,22.58,22.42,22.61,22.46,22.59,22.41,22.6,22.45,
 22.32,22.14,22.28,22.12,22.31,22.16,22.29,22.11,22.3,22.15,
 21.9,21.72,21.86,21.7,21.88,21.74,21.85,21.69,21.87,21.73,
 21.48,21.32,21.44,21.3,21.46,21.34,21.43,21.31,21.45,21.33,
 21.08,20.94,21.04,20.92,21.06,20.96,21.03,20.91,21.05,20.95,
 28.98,28.84,28.94,28.82,28.96,28.86,28.93,28.81,28.95,28.85,
 28.38,28.24,28.34,28.22,28.36,28.26,28.33,28.21,28.35,28.25,
 27.86,27.72,27.82,27.7,27.84,27.74,27.81,27.69,27.83,27.73,
 29.46,29.32,29.42,29.3,29.44,29.34,29.41,29.29,29.43,29.33,
 24.62,24.45,24.7,24.9,24.55,25.05,24.85,25.25,25.3,25.5,
]
power_fill = [
 94,94,95,94,95,94,94,95,94,94,
 94,93,93,94,93,93,93,94,93,93,
 92,92,92,91,92,92,91,92,92,92,
 91,91,91,91,91,91,91,91,91,91,
 90,90,90,90,90,90,90,90,90,90,
 89,89,89,89,89,89,89,89,89,89,
 88,88,88,88,88,88,88,88,88,88,
 87,87,87,87,87,87,87,87,87,87,
 86,86,86,86,86,86,86,86,86,86,
 85,85,85,85,85,85,85,85,85,85,
 84,84,84,84,84,84,84,84,84,84,
 83,83,83,83,83,83,83,83,83,83,
 82,82,82,82,82,82,82,82,82,82,
 81,81,81,81,81,81,81,81,81,81,
 80,80,80,80,80,80,80,80,80,80,
 79,79,79,79,79,79,79,79,79,79,
 78,78,78,78,78,78,78,78,78,78,
 77,77,77,77,77,77,77,77,77,77,
 76,75,76,75,76,75,76,75,76,75,
 74,74,74,74,74,74,74,74,74,74,
 101,100,100,100,101,100,100,100,101,100,
 99,98,98,98,99,98,98,98,98,98,
 97,96,97,96,97,96,97,96,97,96,
 102,102,102,102,102,102,102,102,102,102,
 86,86,86,87,86,88,87,88,88,89,
]

# fourth pass, between the diagonals of the middle
eta_gap = [
 .640,.649,.657,.665,.674,.682,.691,.699,.708,.716,
 .644,.653,.663,.671,.680,.689,.698,.707,.716,.725,
 .650,.659,.669,.678,.687,.696,.705,.714,.723,.733,
 .654,.664,.673,.682,.692,.701,.710,.720,.729,.738,
 .657,.667,.677,.686,.696,.706,.716,.726,.736,.745,
 .660,.670,.680,.690,.700,.710,.720,.730,.740,.750,
 .665,.675,.685,.695,.705,.715,.725,.735,.745,.755,
 .670,.680,.689,.699,.709,.719,.729,.739,.749,.758,
 .674,.684,.693,.703,.713,.722,.732,.742,.752,.762,
 .678,.688,.697,.707,.717,.726,.736,.746,.756,.766,
 .684,.693,.702,.712,.721,.731,.740,.750,.759,.769,
 .688,.697,.706,.716,.725,.734,.743,.753,.762,.771,
 .692,.701,.710,.719,.728,.737,.746,.755,.764,.772,
 .697,.706,.714,.723,.732,.741,.749,.758,.766,.773,
 .702,.710,.719,.727,.735,.743,.751,.759,.767,.775,
]
batt_gap = [
 27.05,27.18,26.99,27.2,27.1,27.02,27.22,27.08,27.15,26.98,
 26.76,26.88,26.7,26.85,26.92,26.74,26.81,26.69,26.9,26.78,
 26.45,26.56,26.42,26.52,26.6,26.4,26.5,26.58,26.44,26.54,
 26.22,26.1,26.28,26.14,26.2,26.08,26.26,26.16,26.24,26.12,
 25.84,25.96,25.8,25.92,25.87,25.98,25.82,25.94,25.86,25.97,
 25.55,25.67,25.5,25.62,25.7,25.52,25.6,25.68,25.5,25.64,
 25.26,25.36,25.2,25.33,25.4,25.22,25.3,25.38,25.18,25.34,
 24.96,25.08,24.9,25.03,25.1,24.92,25.0,25.06,24.88,25.05,
 24.66,24.78,24.6,24.73,24.8,24.62,24.7,24.76,24.58,24.75,
 24.36,24.48,24.3,24.43,24.5,24.32,24.4,24.46,24.28,24.45,
 24.06,24.18,24.0,24.13,24.2,24.02,24.1,24.16,23.98,24.15,
 23.76,23.88,23.7,23.83,23.9,23.72,23.8,23.86,23.68,23.85,
 23.46,23.58,23.4,23.53,23.6,23.42,23.5,23.56,23.38,23.55,
 23.16,23.28,23.1,23.23,23.3,23.12,23.2,23.26,23.08,23.25,
 22.86,22.98,22.8,22.93,23.0,22.82,22.9,22.96,22.78,22.95,
]
power_gap = [
 94,95,94,95,94,94,95,94,95,94,
 93,94,93,93,94,93,93,93,94,93,
 92,92,92,92,92,92,92,92,92,92,
 91,91,91,91,91,91,91,91,91,91,
 90,90,90,90,90,90,90,90,90,90,
 89,89,89,89,89,89,89,89,89,89,
 88,88,88,88,88,88,88,88,88,88,
 87,87,87,87,87,87,87,87,87,87,
 86,86,86,86,86,86,86,86,86,86,
 85,85,85,85,85,85,85,85,85,85,
 84,84,84,84,84,84,84,84,84,84,
 83,83,83,83,83,83,83,83,83,83,
 82,82,82,82,82,82,82,82,82,82,
 81,81,81,81,81,81,81,81,81,81,
 80,80,80,80,80,80,80,80,80,80,
]

eta = eta_top + eta_left + eta_ur + eta_lr + eta_ll + eta_core + eta_mid + eta_up + eta_fill + eta_gap
batt = batt_top + batt_left + batt_ur + batt_lr + batt_ll + batt_core + batt_mid + batt_up + batt_fill + batt_gap
power = power_top + power_left + power_ur + power_lr + power_ll + power_core + power_mid + power_up + power_fill + power_gap
assert len(eta) == len(batt) == len(power), (len(eta), len(batt), len(power))

mapper = LinearColorMapper(palette=Plasma256, low=60.2, high=123.3)
source = ColumnDataSource(dict(eta=eta, batt=batt, power=power))

p = figure(width=2107, height=1815, x_range=(0.5226, 0.8655), y_range=(16.4, 36.46),
           output_backend="svg", toolbar_location=None,
           min_border_left=252, min_border_top=102, min_border_bottom=167, min_border_right=321)
p.grid.visible = False
p.outline_line_color = "#1a1a1a"
p.outline_line_width = 4
p.background_fill_color = "white"

tr = dict(field="power", transform=mapper)
p.scatter("eta", "batt", source=source, size=18, line_width=3,
          fill_color=tr, line_color=tr, fill_alpha=0.7, line_alpha=0.7)

p.title.text = TITLE
p.title.align = "center"
p.title.text_font = FONT
p.title.text_font_size = "63.3px"
p.title.text_font_style = "normal"
p.title.text_color = "#1a1a1a"
p.title.standoff = 27

for ax, ticks, fmt, label, lab_off, tick_off in [
        (p.xaxis[0], x_ticks, "0.00", X_LABEL, 23, 23),
        (p.yaxis[0], y_ticks, "0.0", Y_LABEL, 25, 25)]:
    ax.ticker = FixedTicker(ticks=ticks)
    ax.formatter = NumeralTickFormatter(format=fmt)
    ax.axis_label = label
    ax.axis_label_standoff = lab_off
    ax.major_label_standoff = tick_off
    ax.axis_label_text_font = FONT
    ax.axis_label_text_font_size = "52px"
    ax.axis_label_text_font_style = "normal"
    ax.axis_label_text_color = "#1a1a1a"
    ax.major_label_text_font = FONT
    ax.major_label_text_font_size = "51px"
    ax.major_label_text_color = "#1a1a1a"
    ax.axis_line_color = "#1a1a1a"
    ax.axis_line_width = 4
    ax.major_tick_line_color = "#1a1a1a"
    ax.major_tick_line_width = 4
    ax.major_tick_in = 0
    ax.major_tick_out = 17
    ax.minor_tick_line_color = None

cb = ColorBar(color_mapper=mapper, ticker=FixedTicker(ticks=c_ticks), width=78, height=1546,
              padding=0, margin=0, location=(97, 0), scale_alpha=0.7,
              background_fill_alpha=0,
              bar_line_color="#1a1a1a", bar_line_width=4,
              major_tick_in=0, major_tick_out=17, major_tick_line_color="#1a1a1a", major_tick_line_width=4,
              minor_tick_line_color=None, label_standoff=20,
              major_label_text_font=FONT, major_label_text_font_size="52px", major_label_text_color="#1a1a1a")
p.add_layout(cb, "right")

# narrow companion figure that only carries the colour bar's caption
cap = figure(width=72, height=1815, x_range=(0, 1), y_range=(16.4, 36.46),
             output_backend="svg", toolbar_location=None,
             min_border_left=70, min_border_right=0, min_border_top=102, min_border_bottom=167)
cap.grid.visible = False
cap.outline_line_color = None
cap.xaxis.visible = False
cap.yaxis.ticker = FixedTicker(ticks=[])
cap.yaxis.axis_line_color = None
cap.yaxis.major_tick_line_color = None
cap.yaxis.minor_tick_line_color = None
cap.yaxis.major_label_text_font_size = "0px"
cap.yaxis.axis_label = C_LABEL
cap.yaxis.axis_label_standoff = 0
cap.yaxis.axis_label_text_font = FONT
cap.yaxis.axis_label_text_font_size = "52px"
cap.yaxis.axis_label_text_font_style = "normal"
cap.yaxis.axis_label_text_color = "#1a1a1a"

open("out.html", "w").write(file_html(row(p, cap), INLINE))
